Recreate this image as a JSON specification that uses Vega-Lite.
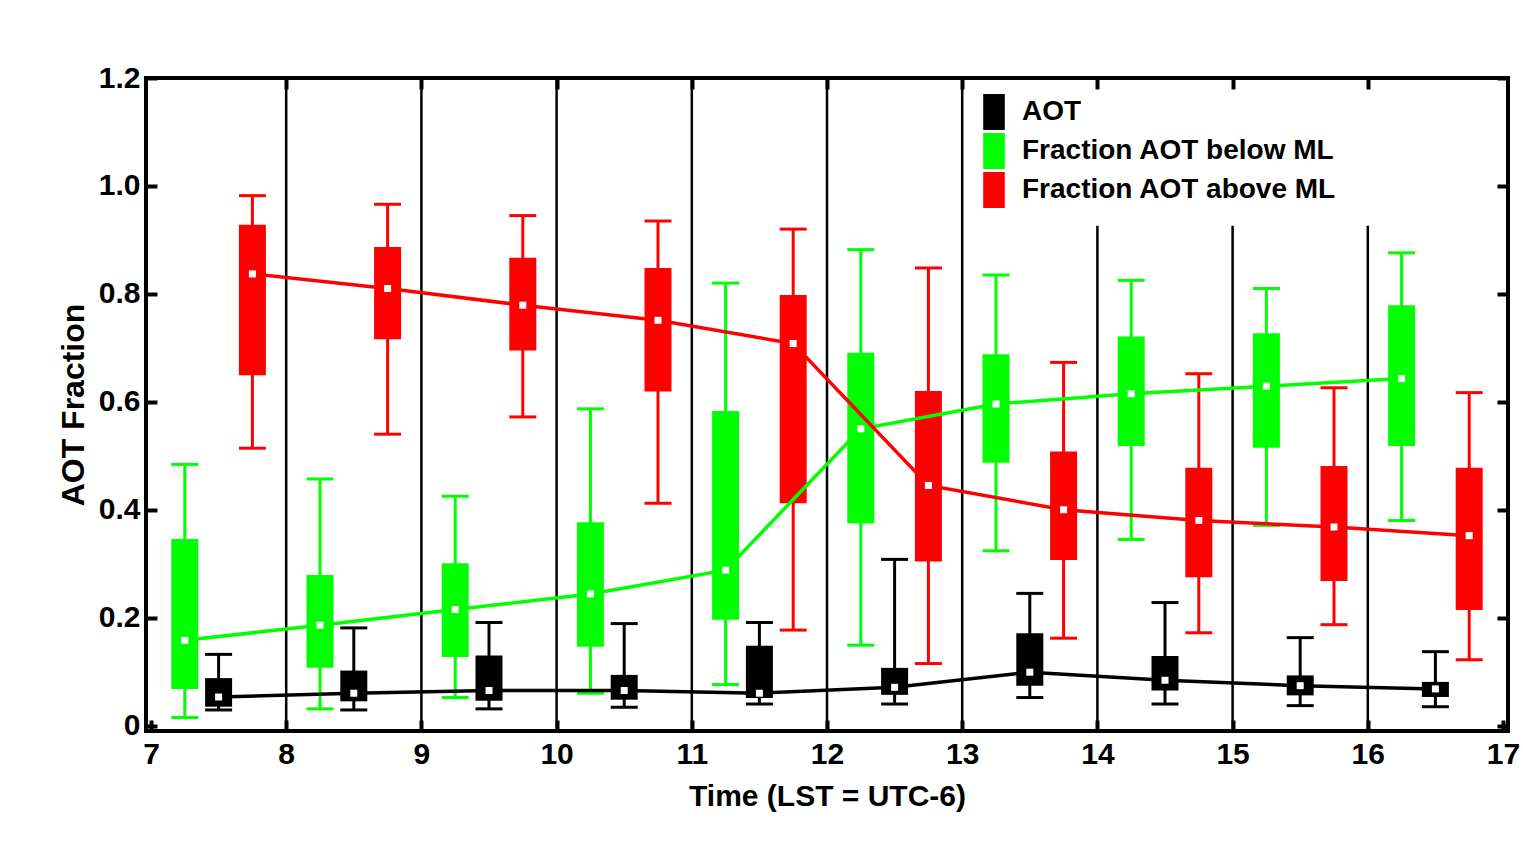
{
  "$schema": "https://vega.github.io/schema/vega-lite/v6.json",
  "width": 1362,
  "height": 653,
  "autosize": {"type": "none"},
  "padding": {"left": 146, "top": 78, "right": 15, "bottom": 128},
  "background": "white",
  "config": {
    "view": {"stroke": "black", "strokeWidth": 4, "fill": "white"},
    "font": "Liberation Sans",
    "axis": {"grid": false, "domain": false, "labelFont": "Liberation Sans", "labelFontWeight": "bold", "labelFontSize": 30, "labelColor": "black", "titleFont": "Liberation Sans", "titleFontWeight": "bold", "titleColor": "black", "tickColor": "black", "tickWidth": 4, "tickSize": -11}
  },
  "datasets": {
    "stats": [
      {"t": 7.5, "s": "AOT", "lo": 0.029, "q1": 0.035, "med": 0.053, "q3": 0.088, "hi": 0.132},
      {"t": 8.5, "s": "AOT", "lo": 0.029, "q1": 0.045, "med": 0.060, "q3": 0.102, "hi": 0.181},
      {"t": 9.5, "s": "AOT", "lo": 0.031, "q1": 0.046, "med": 0.065, "q3": 0.130, "hi": 0.191},
      {"t": 10.5, "s": "AOT", "lo": 0.034, "q1": 0.048, "med": 0.065, "q3": 0.094, "hi": 0.189},
      {"t": 11.5, "s": "AOT", "lo": 0.040, "q1": 0.051, "med": 0.060, "q3": 0.148, "hi": 0.191},
      {"t": 12.5, "s": "AOT", "lo": 0.040, "q1": 0.057, "med": 0.071, "q3": 0.107, "hi": 0.308},
      {"t": 13.5, "s": "AOT", "lo": 0.052, "q1": 0.074, "med": 0.099, "q3": 0.171, "hi": 0.245},
      {"t": 14.5, "s": "AOT", "lo": 0.040, "q1": 0.065, "med": 0.084, "q3": 0.129, "hi": 0.228},
      {"t": 15.5, "s": "AOT", "lo": 0.037, "q1": 0.056, "med": 0.074, "q3": 0.093, "hi": 0.163},
      {"t": 16.5, "s": "AOT", "lo": 0.035, "q1": 0.053, "med": 0.068, "q3": 0.081, "hi": 0.137},
      {"t": 7.25, "s": "Fraction AOT below ML", "lo": 0.015, "q1": 0.068, "med": 0.158, "q3": 0.346, "hi": 0.484},
      {"t": 8.25, "s": "Fraction AOT below ML", "lo": 0.031, "q1": 0.107, "med": 0.186, "q3": 0.279, "hi": 0.457},
      {"t": 9.25, "s": "Fraction AOT below ML", "lo": 0.052, "q1": 0.127, "med": 0.215, "q3": 0.301, "hi": 0.425},
      {"t": 10.25, "s": "Fraction AOT below ML", "lo": 0.060, "q1": 0.146, "med": 0.244, "q3": 0.377, "hi": 0.587},
      {"t": 11.25, "s": "Fraction AOT below ML", "lo": 0.076, "q1": 0.196, "med": 0.288, "q3": 0.583, "hi": 0.820},
      {"t": 12.25, "s": "Fraction AOT below ML", "lo": 0.149, "q1": 0.375, "med": 0.550, "q3": 0.691, "hi": 0.882},
      {"t": 13.25, "s": "Fraction AOT below ML", "lo": 0.324, "q1": 0.487, "med": 0.596, "q3": 0.688, "hi": 0.835},
      {"t": 14.25, "s": "Fraction AOT below ML", "lo": 0.345, "q1": 0.518, "med": 0.615, "q3": 0.721, "hi": 0.825},
      {"t": 15.25, "s": "Fraction AOT below ML", "lo": 0.371, "q1": 0.515, "med": 0.629, "q3": 0.727, "hi": 0.810},
      {"t": 16.25, "s": "Fraction AOT below ML", "lo": 0.380, "q1": 0.518, "med": 0.643, "q3": 0.779, "hi": 0.876},
      {"t": 7.75, "s": "Fraction AOT above ML", "lo": 0.514, "q1": 0.649, "med": 0.837, "q3": 0.928, "hi": 0.982},
      {"t": 8.75, "s": "Fraction AOT above ML", "lo": 0.540, "q1": 0.716, "med": 0.810, "q3": 0.887, "hi": 0.966},
      {"t": 9.75, "s": "Fraction AOT above ML", "lo": 0.572, "q1": 0.695, "med": 0.779, "q3": 0.867, "hi": 0.945},
      {"t": 10.75, "s": "Fraction AOT above ML", "lo": 0.412, "q1": 0.619, "med": 0.751, "q3": 0.848, "hi": 0.935},
      {"t": 11.75, "s": "Fraction AOT above ML", "lo": 0.177, "q1": 0.412, "med": 0.708, "q3": 0.798, "hi": 0.920},
      {"t": 12.75, "s": "Fraction AOT above ML", "lo": 0.115, "q1": 0.304, "med": 0.445, "q3": 0.620, "hi": 0.848},
      {"t": 13.75, "s": "Fraction AOT above ML", "lo": 0.162, "q1": 0.307, "med": 0.400, "q3": 0.508, "hi": 0.673},
      {"t": 14.75, "s": "Fraction AOT above ML", "lo": 0.172, "q1": 0.275, "med": 0.380, "q3": 0.478, "hi": 0.652},
      {"t": 15.75, "s": "Fraction AOT above ML", "lo": 0.187, "q1": 0.268, "med": 0.368, "q3": 0.481, "hi": 0.626},
      {"t": 16.75, "s": "Fraction AOT above ML", "lo": 0.122, "q1": 0.214, "med": 0.352, "q3": 0.478, "hi": 0.617}
    ]
  },
  "resolve": {"axis": {"x": "independent", "y": "independent"}, "legend": {"color": "independent"}},
  "layer": [
    {
      "data": {"values": [{"h": 8}, {"h": 9}, {"h": 10}, {"h": 11}, {"h": 12}, {"h": 13}]},
      "mark": {"type": "rule", "color": "black", "strokeWidth": 2.5},
      "encoding": {
        "x": {"field": "h", "type": "quantitative", "scale": {"domain": [7, 17], "nice": false, "zero": false},
              "axis": {"orient": "bottom", "values": [7, 8, 9, 10, 11, 12, 13, 14, 15, 16, 17], "title": "Time (LST = UTC-6)", "titleFontSize": 30, "titlePadding": 12, "labelPadding": 19, "labelFlush": false, "labelOverlap": false}},
        "y": {"datum": -0.01, "type": "quantitative", "scale": {"domain": [-0.01, 1.2], "nice": false, "zero": false},
              "axis": {"orient": "left", "values": [0, 0.2, 0.4, 0.6, 0.8, 1.0, 1.2], "labelExpr": "datum.value == 0 ? '0' : format(datum.value, '.1f')", "title": "AOT Fraction", "titleFontSize": 32, "titlePadding": 8, "labelPadding": 17, "labelFlush": false, "labelOverlap": false}},
        "y2": {"datum": 1.2}
      }
    },
    {
      "data": {"values": [{"h": 14}, {"h": 15}, {"h": 16}]},
      "mark": {"type": "rule", "color": "black", "strokeWidth": 2.5},
      "encoding": {
        "x": {"field": "h", "type": "quantitative", "axis": {"orient": "top", "values": [8, 9, 10, 11, 12, 13, 14, 15, 16], "labels": false, "title": null}},
        "y": {"datum": -0.01, "type": "quantitative", "axis": {"orient": "right", "values": [0, 0.2, 0.4, 0.6, 0.8, 1.0, 1.2], "labels": false, "title": null}},
        "y2": {"datum": 0.926}
      }
    },
    {
      "data": {"name": "stats"},
      "mark": {"type": "rule", "strokeWidth": 3},
      "encoding": {
        "x": {"field": "t", "type": "quantitative", "axis": null},
        "y": {"field": "lo", "type": "quantitative", "axis": null},
        "y2": {"field": "hi"},
        "color": {"field": "s", "type": "nominal", "scale": {"domain": ["AOT", "Fraction AOT below ML", "Fraction AOT above ML"], "range": ["#000000", "#00ff00", "#ff0000"]}, "legend": null}
      }
    },
    {
      "data": {"name": "stats"},
      "mark": {"type": "tick", "orient": "horizontal", "size": 27, "thickness": 3, "opacity": 1},
      "encoding": {
        "x": {"field": "t", "type": "quantitative", "axis": null},
        "y": {"field": "lo", "type": "quantitative", "axis": null},
        "color": {"field": "s", "type": "nominal", "legend": null}
      }
    },
    {
      "data": {"name": "stats"},
      "mark": {"type": "tick", "orient": "horizontal", "size": 27, "thickness": 3, "opacity": 1},
      "encoding": {
        "x": {"field": "t", "type": "quantitative", "axis": null},
        "y": {"field": "hi", "type": "quantitative", "axis": null},
        "color": {"field": "s", "type": "nominal", "legend": null}
      }
    },
    {
      "data": {"name": "stats"},
      "mark": {"type": "bar", "orient": "vertical", "width": 27, "opacity": 1},
      "encoding": {
        "x": {"field": "t", "type": "quantitative", "axis": null},
        "y": {"field": "q1", "type": "quantitative", "axis": null},
        "y2": {"field": "q3"},
        "color": {"field": "s", "type": "nominal", "sort": null,
          "legend": {"title": null, "orient": "none", "legendX": 830, "legendY": 16, "padding": 0, "fillColor": "white",
            "symbolType": "M-0.6,-1L0.6,-1L0.6,1L-0.6,1Z", "symbolSize": 1296, "symbolStrokeWidth": 0, "symbolOpacity": 1,
            "labelFont": "Liberation Sans", "labelFontWeight": "bold", "labelFontSize": 28, "labelColor": "black", "labelOffset": 10, "labelLimit": 600, "rowPadding": 3}}
      }
    },
    {
      "data": {"name": "stats"},
      "mark": {"type": "line", "strokeWidth": 3.5},
      "encoding": {
        "x": {"field": "t", "type": "quantitative", "axis": null},
        "y": {"field": "med", "type": "quantitative", "axis": null},
        "color": {"field": "s", "type": "nominal", "legend": null},
        "order": {"field": "t"}
      }
    },
    {
      "data": {"name": "stats"},
      "mark": {"type": "square", "size": 49, "color": "white", "opacity": 1, "filled": true},
      "encoding": {
        "x": {"field": "t", "type": "quantitative", "axis": null},
        "y": {"field": "med", "type": "quantitative", "axis": null}
      }
    }
  ]
}
